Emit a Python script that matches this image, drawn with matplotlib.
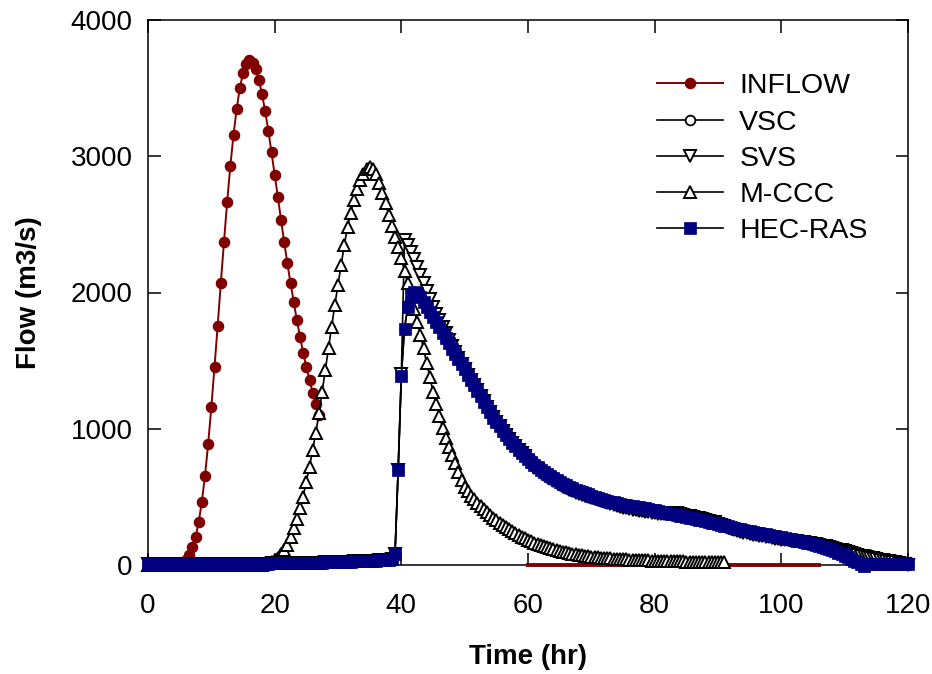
import numpy as np
import matplotlib
matplotlib.use("Agg")
import matplotlib.pyplot as plt

plt.rcParams["font.family"] = ["Liberation Sans", "DejaVu Sans"]

# ---- data, flow in m3/s ----
t_inflow = np.arange(0, 27.5, 0.5)
q_inflow = [0, 0, 0, 0, 0, 0, 0, 0, 0, 0,
            5, 15, 35, 73, 130, 203, 313, 465, 655, 890,
            1160, 1453, 1756, 2072, 2373, 2667, 2928, 3158, 3347, 3503,
            3608, 3677, 3706, 3687, 3638, 3560, 3457, 3332, 3187, 3029,
            2865, 2703, 2532, 2373, 2214, 2072, 1933, 1798, 1676, 1558,
            1455, 1358, 1265, 1182, 1101]
# inflow base line along zero, seen under the M-CCC tail
t_inflow_base = [60, 106]
q_inflow_base = [0, 0]

t_route = np.arange(0, 120.5, 0.5)
q_hecras = [10, 10, 10, 10, 10, 10, 10, 10, 10, 10,
            10, 10, 10, 10, 10, 10, 10, 10, 10, 10,
            10, 10, 10, 10, 10, 10, 10, 10, 10, 10,
            10, 10, 10, 10, 10, 11, 11, 11, 11, 12,
            12, 12, 12, 13, 13, 13, 14, 14, 15, 15,
            16, 16, 17, 17, 18, 18, 19, 19, 20, 21,
            22, 22, 23, 24, 25, 26, 27, 28, 29, 30,
            31, 32, 33, 34, 36, 38, 40, 45, 80, 700,
            1390, 1735, 1890, 1980, 2005, 1995, 1965, 1928, 1892, 1856,
            1820, 1782, 1745, 1705, 1665, 1626, 1588, 1550, 1512, 1474,
            1435, 1396, 1358, 1319, 1280, 1240, 1200, 1160, 1120, 1082,
            1050, 1017, 985, 955, 925, 897, 870, 845, 820, 797,
            775, 755, 735, 716, 698, 681, 665, 650, 635, 621,
            608, 596, 584, 573, 562, 552, 543, 534, 526, 518,
            510, 502, 495, 487, 480, 473, 466, 460, 454, 448,
            443, 439, 435, 431, 427, 423, 419, 415, 411, 406,
            402, 397, 392, 387, 382, 377, 372, 367, 362, 357,
            352, 347, 342, 337, 332, 327, 321, 316, 311, 306,
            300, 295, 289, 283, 277, 272, 267, 262, 257, 252,
            247, 243, 238, 234, 229, 225, 221, 216, 212, 207,
            203, 198, 194, 189, 184, 179, 174, 169, 164, 158,
            152, 146, 140, 133, 126, 118, 110, 101, 91, 80,
            69, 57, 45, 33, 21, 9, -8, 5, 10, 10,
            10, 10, 10, 10, 10, 10, 10, 10, 10, 10,
            10]
# VSC sits under the HEC-RAS squares over the whole run
q_vsc = q_hecras
q_svs = [10, 10, 10, 10, 10, 10, 10, 10, 10, 10,
         10, 10, 10, 10, 10, 10, 10, 10, 10, 10,
         10, 10, 10, 10, 10, 10, 10, 10, 10, 10,
         10, 10, 10, 10, 10, 11, 11, 11, 11, 12,
         12, 12, 12, 13, 13, 13, 14, 14, 15, 15,
         16, 16, 17, 17, 18, 18, 19, 19, 20, 21,
         22, 22, 23, 24, 25, 26, 27, 28, 29, 30,
         31, 32, 33, 34, 36, 38, 40, 45, 80, 700,
         1400, 2385, 2345, 2300, 2245, 2185, 2128, 2068, 2010, 1950,
         1895, 1845, 1795, 1745, 1700, 1655, 1610, 1565, 1520, 1478,
         1438, 1398, 1359, 1320, 1281, 1241, 1201, 1161, 1121, 1083,
         1051, 1018, 986, 956, 926, 898, 871, 846, 821, 798,
         755, 734, 714, 695, 677, 660, 644, 629, 615, 601,
         588, 576, 564, 553, 542, 532, 523, 514, 506, 498,
         490, 482, 475, 467, 460, 453, 446, 440, 434, 428,
         419, 415, 411, 407, 403, 399, 395, 391, 387, 383,
         380, 376, 373, 372, 375, 380, 382, 378, 373, 368,
         363, 358, 353, 348, 342, 336, 330, 324, 318, 312,
         303, 295, 285, 275, 262, 254, 248, 242, 237, 232,
         227, 223, 219, 214, 210, 206, 202, 198, 194, 190,
         186, 183, 180, 178, 176, 173, 170, 167, 164, 160,
         156, 152, 147, 142, 137, 131, 125, 119, 113, 107,
         100, 93, 86, 80, 74, 68, 63, 58, 53, 48,
         44, 40, 36, 32, 28, 24, 20, 15, 10, 5,
         0]

t_mccc = np.arange(0, 91.5, 0.5)
q_mccc = [0, 0, 0, 0, 0, 0, 0, 0, 0, 0,
          0, 0, 0, 0, 0, 0, 0, 0, 0, 0,
          0, 0, 0, 0, 0, 0, 0, 0, 0, 0,
          0, 0, 0, 0, 0, 0, 3, 6, 12, 22,
          35, 55, 81, 110, 147, 203, 269, 338, 416, 501,
          612, 722, 844, 971, 1113, 1272, 1431, 1590, 1749, 1910,
          2055, 2202, 2349, 2479, 2586, 2679, 2757, 2826, 2870, 2905,
          2922, 2910, 2870, 2806, 2733, 2655, 2569, 2488, 2410, 2336,
          2250, 2160, 2068, 1975, 1880, 1783, 1685, 1590, 1480, 1380,
          1270, 1180, 1090, 1008, 935, 868, 807, 746, 685, 627,
          575, 540, 510, 482, 456, 432, 409, 387, 366, 346,
          327, 309, 292, 276, 261, 247, 233, 220, 208, 196,
          185, 174, 164, 155, 146, 138, 130, 123, 116, 110,
          104, 98, 93, 88, 83, 79, 75, 71, 68, 65,
          62, 59, 57, 55, 53, 51, 49, 47, 46, 44,
          43, 41, 40, 39, 38, 37, 36, 35, 34, 33,
          32, 31, 30, 30, 29, 28, 28, 27, 26, 26,
          25, 25, 24, 24, 23, 23, 22, 22, 21, 21,
          20, 20, 20]

RED = "#800000"
NAVY = "#000080"

fig = plt.figure(figsize=(9.32, 6.74), dpi=100)
ax = fig.add_axes([148 / 932, 1 - 565 / 674, 760 / 932, 545 / 674])

ax.plot(t_inflow_base, q_inflow_base, color=RED, lw=2.8, clip_on=False, zorder=2)
ax.plot(t_inflow, q_inflow, color=RED, lw=1.4, marker="o", ms=7.3,
        mfc=RED, mec=RED, label="INFLOW", clip_on=False, zorder=3)
ax.plot(t_route, q_vsc, color="black", lw=1.2, marker="o", ms=7,
        mfc="white", mec="black", mew=1.3, label="VSC", clip_on=False, zorder=4)
ax.plot(t_route, q_svs, color="black", lw=1.2, marker="v", ms=8.8,
        mfc="white", mec="black", mew=1.4, label="SVS", clip_on=False, zorder=5)
ax.plot(t_mccc, q_mccc, color="black", lw=1.2, marker="^", ms=8.8,
        mfc="white", mec="black", mew=1.4, label="M-CCC", clip_on=False, zorder=6)
ax.plot(t_route, q_hecras, color="black", lw=1.2, marker="s", ms=9.2,
        mfc=NAVY, mec=NAVY, mew=0.5, label="HEC-RAS", clip_on=False, zorder=7)

ax.set_xlim(0, 120)
ax.set_ylim(0, 4000)
ax.set_xticks(range(0, 121, 20))
ax.set_yticks(range(0, 4001, 1000))
ax.tick_params(direction="in", length=9, width=1.1, labelsize=20,
               top=True, right=True)
ax.tick_params(axis="x", pad=20.5)
ax.tick_params(axis="y", pad=11)
for sp in ax.spines.values():
    sp.set_linewidth(1.1)
    sp.set_zorder(1)

ax.set_xlabel("Time (hr)", fontsize=20, fontweight="bold")
ax.set_ylabel("Flow (m3/s)", fontsize=20, fontweight="bold")
ax.xaxis.set_label_coords(0.5, -0.145)
ax.yaxis.set_label_coords(-0.14, 0.5)

ax.legend(loc="upper left", bbox_to_anchor=(0.67, 0.902), frameon=False,
          fontsize=20.5, handlelength=2.3, handletextpad=0.58,
          labelspacing=0.36, borderpad=0, borderaxespad=0)

fig.savefig("out.png", dpi=100)
